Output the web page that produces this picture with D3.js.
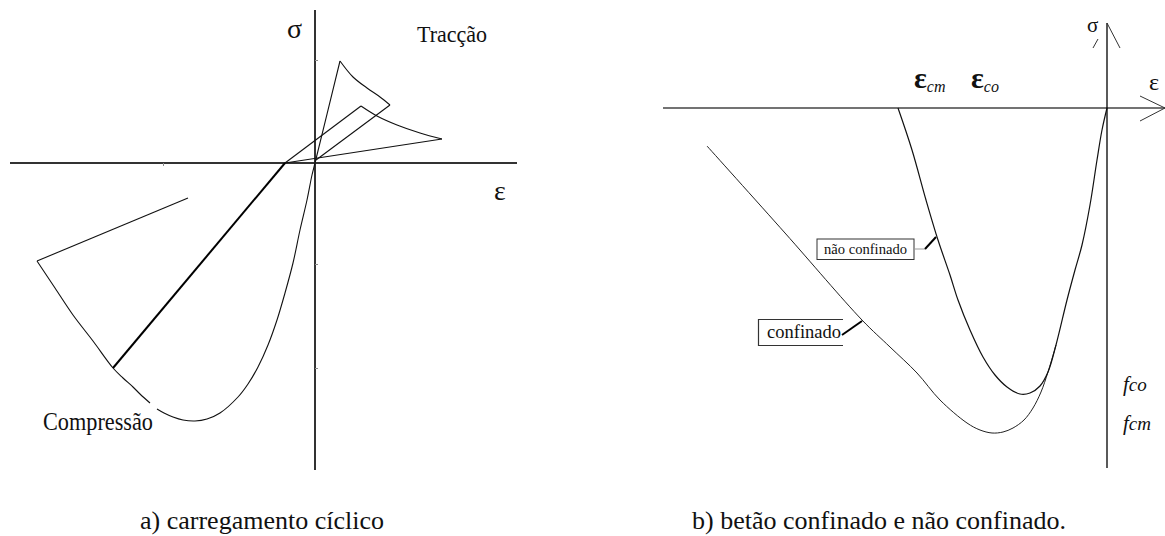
<!DOCTYPE html>
<html>
<head>
<meta charset="utf-8">
<script src="https://cdn.jsdelivr.net/npm/d3@7"></script>
<style>
  body { margin: 0; background: #fff; }
  svg { display: block; }
  text { font-family: "Liberation Serif", "Times New Roman", serif; fill: #111; }
</style>
</head>
<body>
<svg id="chart" width="1165" height="536"></svg>
<script>
// ---- data, panel a (units: strain / stress, origin at 0,0) ----
var envelopeUpper = [[0.25, 1.02], [0, 0], [-0.03, -0.12], [-0.08, -0.37], [-0.15, -0.67], [-0.22, -1.00],
  [-0.30, -1.30], [-0.38, -1.57], [-0.47, -1.82], [-0.57, -2.04], [-0.67, -2.21], [-0.77, -2.34],
  [-0.95, -2.50], [-1.08, -2.56], [-1.20, -2.58], [-1.32, -2.57], [-1.42, -2.54], [-1.51, -2.50], [-1.58, -2.46]];
var envelopeLower = [[-1.65, -2.40], [-1.75, -2.31], [-1.82, -2.24], [-1.92, -2.15], [-2.02, -2.05],
  [-2.22, -1.78], [-2.42, -1.52], [-2.60, -1.25], [-2.78, -0.98]];
var unloadComp = [[-2.78, -0.98], [-1.27, -0.35]];
var reloadComp = [[-2.02, -2.05], [-0.30, 0]];
var loopOuter = [[0.25, 1.02], [0.38, 0.86], [0.52, 0.75], [0.65, 0.66], [0.75, 0.58]];
var loopOuterBack = [[0.75, 0.58], [0.01, 0.03]];
var loopInnerUp = [[-0.30, 0], [0.46, 0.57]];
var loopInner = [[0.46, 0.57], [0.62, 0.47], [0.82, 0.38], [1.05, 0.30], [1.27, 0.24]];
var loopInnerBack = [[1.27, 0.24], [-0.30, 0]];
var sigmaTicksA = [1.03, -1.01, -2.05];
var epsTicksA = [-1.52];

// ---- data, panel b ----
var unconfined = [[-2.09, 0], [-1.95, -0.42], [-1.81, -0.92], [-1.69, -1.32], [-1.57, -1.67], [-1.49, -1.92],
  [-1.37, -2.22], [-1.24, -2.49], [-1.12, -2.67], [-1.00, -2.79], [-0.87, -2.86], [-0.77, -2.85],
  [-0.67, -2.78], [-0.59, -2.64], [-0.51, -2.37], [-0.40, -1.92], [-0.32, -1.62], [-0.25, -1.37],
  [-0.17, -0.97], [-0.10, -0.52], [-0.05, -0.22], [0, 0]];
var confined = [[-4.00, -0.38], [-3.22, -1.25], [-2.45, -2.12], [-2.17, -2.39], [-1.90, -2.65], [-1.67, -2.92],
  [-1.40, -3.15], [-1.27, -3.22], [-1.15, -3.25], [-1.04, -3.24], [-0.94, -3.20], [-0.83, -3.12],
  [-0.74, -3.00], [-0.66, -2.84], [-0.59, -2.64], [-0.51, -2.37]];

var captions = ["a) carregamento cíclico", "b) betão confinado e não confinado."];

var svg = d3.select("#chart");

// ================= panel a =================
var xL = d3.scaleLinear().domain([-3.05, 2.02]).range([10, 517]);
var yL = d3.scaleLinear().domain([-3.07, 1.53]).range([470, 10]);
var lineL = d3.line().x(d => xL(d[0])).y(d => yL(d[1]));
var curveL = d3.line().x(d => xL(d[0])).y(d => yL(d[1])).curve(d3.curveCatmullRom.alpha(0.5));

var gA = svg.append("g");
gA.append("line")
    .attr("x1", xL.range()[0]).attr("x2", xL.range()[1])
    .attr("y1", yL(0)).attr("y2", yL(0))
    .attr("stroke", "#333").attr("stroke-width", 2);
gA.append("line")
    .attr("x1", xL(0)).attr("x2", xL(0))
    .attr("y1", yL.range()[1]).attr("y2", yL.range()[0])
    .attr("stroke", "#333").attr("stroke-width", 2);

var tickY = gA.append("g").attr("transform", "translate(" + xL(0) + ",0)")
    .call(d3.axisRight(yL).tickValues(sigmaTicksA).tickSize(3).tickFormat(""));
tickY.select(".domain").remove();
tickY.selectAll("line").attr("stroke", "#888");
var tickX = gA.append("g").attr("transform", "translate(0," + yL(0) + ")")
    .call(d3.axisBottom(xL).tickValues(epsTicksA).tickSize(3).tickFormat(""));
tickX.select(".domain").remove();
tickX.selectAll("line").attr("stroke", "#888");

[envelopeUpper, envelopeLower, loopOuter, loopInner].forEach(function(pts) {
    gA.append("path").attr("d", curveL(pts))
        .attr("fill", "none").attr("stroke", "#111").attr("stroke-width", 1.1);
});
[unloadComp, loopOuterBack, loopInnerUp, loopInnerBack].forEach(function(pts) {
    gA.append("path").attr("d", lineL(pts))
        .attr("fill", "none").attr("stroke", "#111").attr("stroke-width", 1.1);
});
gA.append("path").attr("d", lineL(reloadComp))
    .attr("fill", "none").attr("stroke", "#000").attr("stroke-width", 2);

gA.append("text").attr("x", 287).attr("y", 38).style("font-size", "28px").text("σ");
gA.append("text").attr("x", 494).attr("y", 200).style("font-size", "28px").text("ε");
gA.append("text").attr("x", 417).attr("y", 42).style("font-size", "23px")
    .attr("textLength", 70).attr("lengthAdjust", "spacingAndGlyphs").text("Tracção");
gA.append("text").attr("x", 43).attr("y", 430).style("font-size", "25px")
    .attr("textLength", 110).attr("lengthAdjust", "spacingAndGlyphs").text("Compressão");

// ================= panel b =================
var xR = d3.scaleLinear().domain([-4.44, 0.58]).range([663, 1165]);
var yR = d3.scaleLinear().domain([-3.60, 0.85]).range([468, 23]);
var curveR = d3.line().x(d => xR(d[0])).y(d => yR(d[1])).curve(d3.curveCatmullRom.alpha(0.5));

var gB = svg.append("g");
var ox = xR(0), oy = yR(0);
gB.append("line")
    .attr("x1", xR.range()[0]).attr("x2", xR.range()[1])
    .attr("y1", oy).attr("y2", oy)
    .attr("stroke", "#444").attr("stroke-width", 1.4);
gB.append("line")
    .attr("x1", ox).attr("x2", ox)
    .attr("y1", yR.range()[1]).attr("y2", yR.range()[0])
    .attr("stroke", "#000").attr("stroke-width", 1.3);
// arrow heads
var tipX = xR.range()[1], tipY = yR.range()[1];
gB.append("path").attr("d", "M" + (tipX - 25) + "," + (oy - 12) + "L" + tipX + "," + oy + "L" + (tipX - 25) + "," + (oy + 13))
    .attr("fill", "none").attr("stroke", "#333").attr("stroke-width", 1);
gB.append("path").attr("d", "M" + (ox + 13) + "," + (tipY + 25) + "L" + ox + "," + tipY)
    .attr("fill", "none").attr("stroke", "#333").attr("stroke-width", 1);
gB.append("path").attr("d", "M" + (ox - 14) + "," + (tipY + 25) + "L" + (ox - 9) + "," + (tipY + 16))
    .attr("fill", "none").attr("stroke", "#333").attr("stroke-width", 1);

gB.append("path").attr("d", curveR(confined))
    .attr("fill", "none").attr("stroke", "#222").attr("stroke-width", 1);
gB.append("path").attr("d", curveR(unconfined))
    .attr("fill", "none").attr("stroke", "#111").attr("stroke-width", 1.2);

// labels
gB.append("text").attr("x", 1087).attr("y", 32).style("font-size", "21px").text("σ");
gB.append("text").attr("x", 1149).attr("y", 90).style("font-size", "24px").text("ε");

function epsLabel(x, sub) {
    var t = gB.append("text").attr("x", x).attr("y", 88);
    t.append("tspan").style("font-size", "30px").style("font-weight", "bold").text("ε");
    t.append("tspan").style("font-size", "16px").style("font-style", "italic").attr("dy", 4).text(sub);
}
epsLabel(914, "cm");
epsLabel(971, "co");

function fLabel(y, sub) {
    var t = gB.append("text").attr("x", 1123).attr("y", y).style("font-style", "italic");
    t.append("tspan").style("font-size", "21px").text("f");
    t.append("tspan").style("font-size", "19px").text(sub);
}
fLabel(391, "co");
fLabel(430, "cm");

// "não confinado" callout
gB.append("rect").attr("x", 817).attr("y", 239).attr("width", 97).attr("height", 20.5)
    .attr("fill", "#fff").attr("stroke", "#333").attr("stroke-width", 1);
gB.append("text").attr("x", 824).attr("y", 254).style("font-size", "15px")
    .attr("textLength", 83).attr("lengthAdjust", "spacingAndGlyphs").text("não confinado");
gB.append("line").attr("x1", 914).attr("x2", 925).attr("y1", 249).attr("y2", 249)
    .attr("stroke", "#999").attr("stroke-width", 1);
gB.append("line").attr("x1", 925).attr("x2", 936).attr("y1", 249).attr("y2", 237)
    .attr("stroke", "#000").attr("stroke-width", 2);

// "confinado" callout (box open on the right)
gB.append("path").attr("d", "M843,319.5H758.5V345.5H843")
    .attr("fill", "none").attr("stroke", "#333").attr("stroke-width", 1.2);
gB.append("text").attr("x", 767).attr("y", 338).style("font-size", "19px")
    .attr("textLength", 74).attr("lengthAdjust", "spacingAndGlyphs").text("confinado");
gB.append("line").attr("x1", 842).attr("x2", 862).attr("y1", 335).attr("y2", 321)
    .attr("stroke", "#000").attr("stroke-width", 2);

// captions
svg.append("text").attr("x", 140).attr("y", 529).style("font-size", "26px").text(captions[0]);
svg.append("text").attr("x", 692).attr("y", 529).style("font-size", "26px").text(captions[1]);
</script>
</body>
</html>
